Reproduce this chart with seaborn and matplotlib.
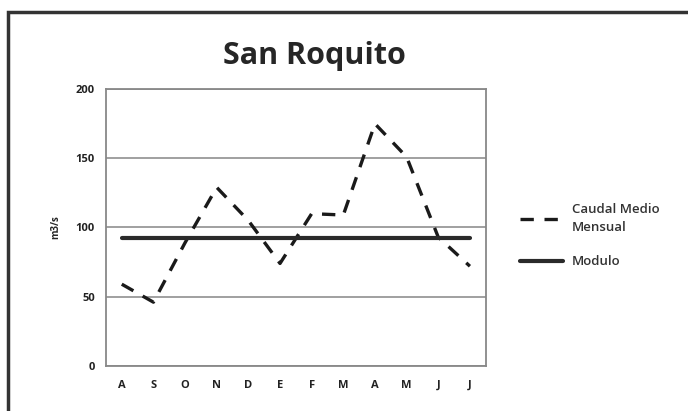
import matplotlib.pyplot as plt
import numpy as np
import seaborn as sns
from matplotlib.patches import Rectangle

months = ['A', 'S', 'O', 'N', 'D', 'E', 'F', 'M', 'A', 'M', 'J', 'J']
caudal = [59, 46, 89, 129, 105, 74, 110, 109, 175, 151, 93, 72]
modulo = [92.5] * 12
yticks = [0, 50, 100, 150, 200]

sns.set_style('white')
plt.rcParams['font.family'] = ['Open Sans', 'DejaVu Sans']

fig = plt.figure(figsize=(6.88, 4.11), dpi=100)
ax = fig.add_axes([0.154, 0.11, 0.552, 0.673])

x = np.arange(len(months))
sns.lineplot(x=x, y=caudal, ax=ax, color='#1a1a1a', linewidth=2.4,
             label='Caudal Medio\nMensual')
ax.lines[-1].set_dashes([4, 3.2])
sns.lineplot(x=x, y=modulo, ax=ax, color='#2a2a2a', linewidth=3.0,
             label='Modulo')

ax.set_xlim(-0.5, 11.5)
ax.set_ylim(0, 200)
ax.set_xticks(x)
ax.set_xticklabels(months)
ax.set_yticks(yticks)
ax.tick_params(axis='both', length=0, labelsize=8, colors='#222222')
ax.tick_params(axis='x', pad=10)
ax.tick_params(axis='y', pad=8)
for t in ax.get_xticklabels() + ax.get_yticklabels():
    t.set_fontweight('bold')
ax.grid(axis='y', color='#999999', linewidth=1.3)
ax.set_axisbelow(True)
for s in ax.spines.values():
    s.set_color('#888888')
    s.set_linewidth(1.3)
ax.set_ylabel('m3/s', fontsize=7, labelpad=10, fontweight='bold')

ax.set_title('San Roquito', fontsize=22, fontweight='bold', pad=18, x=0.55)

leg = ax.legend(loc='center left', bbox_to_anchor=(1.06, 0.47), frameon=False,
                fontsize=9.5, handlelength=3.2, handletextpad=0.7,
                labelspacing=1.6)
for t in leg.get_texts():
    t.set_fontweight('semibold')
    t.set_color('#333333')
    t.set_linespacing(1.5)

fig.patches.append(Rectangle((0.012, -0.02), 1.0, 0.99, transform=fig.transFigure,
                             fill=False, edgecolor='#333333', linewidth=2.5))

fig.savefig('out.png', dpi=100)
